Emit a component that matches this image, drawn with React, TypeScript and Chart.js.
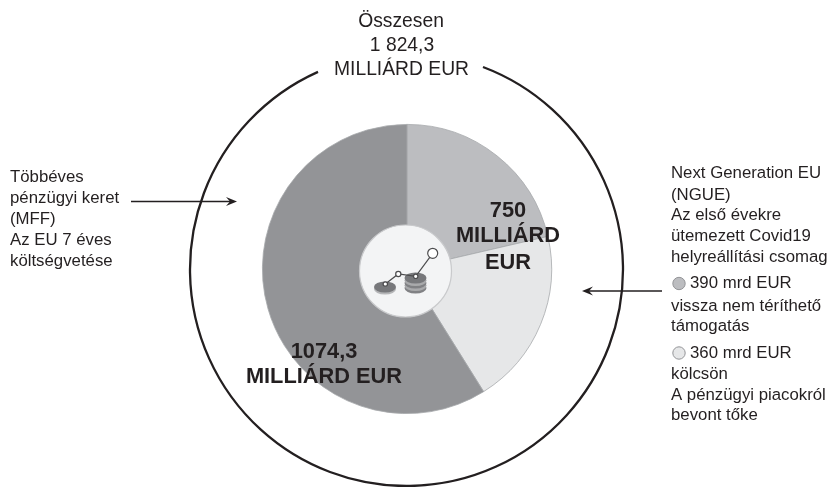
import React, { useEffect, useRef } from "react";
import { Chart, registerables } from "chart.js";

Chart.register(...registerables);

const categories = ["Vissza nem téríthető támogatás", "Kölcsön", "Többéves pénzügyi keret"];
const values = [390, 360, 1074.3];
const colors = ["#bcbdc0", "#e6e7e8", "#939497"];

const FONT = '"Liberation Sans", Arial, sans-serif';

type Line = [string, number, number];
const topLines: Line[] = [["Összesen", 401, 22], ["1 824,3", 402, 46], ["MILLIÁRD EUR", 401.5, 70]];
const leftLines: Line[] = [
  ["Többéves", 10, 177], ["pénzügyi keret", 10, 198], ["(MFF)", 10, 219],
  ["Az EU 7 éves", 10, 240], ["költségvetése", 10, 261],
];
const rightLines: Line[] = [
  ["Next Generation EU", 671, 173], ["(NGUE)", 671, 195], ["Az első évekre", 671, 215],
  ["ütemezett Covid19", 671, 236], ["helyreállítási csomag", 671, 257],
  ["390 mrd EUR", 690, 283], ["vissza nem téríthető", 671, 306], ["támogatás", 671, 326],
  ["360 mrd EUR", 690, 353], ["kölcsön", 671, 374], ["A pénzügyi piacokról", 671, 395], ["bevont tőke", 671, 415],
];
const boldCentered: Line[] = [
  ["750", 508, 211], ["MILLIÁRD", 508, 236], ["EUR", 508, 263],
  ["1074,3", 324, 352], ["MILLIÁRD EUR", 324, 377],
];

function arrow(ctx: CanvasRenderingContext2D, x0: number, x1: number, y: number) {
  const d = x1 > x0 ? 1 : -1;
  ctx.strokeStyle = "#231f20";
  ctx.fillStyle = "#231f20";
  ctx.lineWidth = 1.3;
  ctx.beginPath();
  ctx.moveTo(x0, y);
  ctx.lineTo(x1 - d * 6, y);
  ctx.stroke();
  ctx.beginPath();
  ctx.moveTo(x1, y);
  ctx.lineTo(x1 - d * 11, y - 4.5);
  ctx.lineTo(x1 - d * 7, y);
  ctx.lineTo(x1 - d * 11, y + 4.5);
  ctx.closePath();
  ctx.fill();
}

function coin(ctx: CanvasRenderingContext2D, x: number, y: number, fill: string) {
  ctx.fillStyle = fill;
  ctx.beginPath();
  ctx.ellipse(x, y, 11, 5.5, 0, 0, Math.PI * 2);
  ctx.fill();
}

const overlay = {
  id: "overlay",
  afterDraw(chart: any) {
    const ctx: CanvasRenderingContext2D = chart.ctx;
    const arc = chart.getDatasetMeta(0).data[0];
    const cx = arc.x;
    const cy = arc.y;
    ctx.save();

    // outer ring with a gap for the heading
    const R = 216.5;
    ctx.strokeStyle = "#231f20";
    ctx.lineWidth = 2.3;
    ctx.beginPath();
    ctx.arc(cx - 0.5, cy + 0.5, R, -Math.PI / 2 + Math.asin(76.5 / R), -Math.PI / 2 - Math.asin(88.5 / R));
    ctx.stroke();

    // central disc
    ctx.fillStyle = "#f3f4f5";
    ctx.strokeStyle = "#c9cacc";
    ctx.lineWidth = 1.2;
    ctx.beginPath();
    ctx.arc(405.5, 271, 46, 0, Math.PI * 2);
    ctx.fill();
    ctx.stroke();

    // coins
    coin(ctx, 385, 289, "#b5b6b8");
    coin(ctx, 385, 287, "#77787b");
    [288, 285.5, 283, 280.5].forEach((y, i) => {
      coin(ctx, 415.5, y, i % 2 ? "#a9aaac" : "#808184");
    });
    coin(ctx, 415.5, 278, "#77787b");

    // trend line
    ctx.strokeStyle = "#4d4d4f";
    ctx.lineWidth = 1.2;
    ctx.beginPath();
    ctx.moveTo(385.3, 284);
    ctx.lineTo(398.3, 274);
    ctx.lineTo(415.7, 276.3);
    ctx.lineTo(432.7, 253.3);
    ctx.stroke();
    ctx.fillStyle = "#ffffff";
    ([[385.3, 284, 2.2], [398.3, 274, 2.6], [415.7, 276.3, 2.2], [432.7, 253.3, 5]] as number[][]).forEach(([x, y, r]) => {
      ctx.beginPath();
      ctx.arc(x, y, r, 0, Math.PI * 2);
      ctx.fill();
      ctx.stroke();
    });

    // arrows
    arrow(ctx, 131, 237, 201.5);
    arrow(ctx, 662, 582, 291);

    // legend dots
    ([[679, 283.5, colors[0]], [679, 353, colors[1]]] as [number, number, string][]).forEach(([x, y, c]) => {
      ctx.fillStyle = c;
      ctx.strokeStyle = "#939497";
      ctx.lineWidth = 1;
      ctx.beginPath();
      ctx.arc(x, y, 6.2, 0, Math.PI * 2);
      ctx.fill();
      ctx.stroke();
    });

    // text
    ctx.textBaseline = "middle";
    ctx.fillStyle = "#231f20";
    ctx.font = `19.3px ${FONT}`;
    ctx.textAlign = "center";
    topLines.forEach(([t, x, y]) => ctx.fillText(t, x, y));
    ctx.font = `16.8px ${FONT}`;
    ctx.textAlign = "left";
    leftLines.forEach(([t, x, y]) => ctx.fillText(t, x, y));
    rightLines.forEach(([t, x, y]) => ctx.fillText(t, x, y));
    ctx.font = `bold 21.8px ${FONT}`;
    ctx.textAlign = "center";
    boldCentered.forEach(([t, x, y]) => ctx.fillText(t, x, y));
    ctx.restore();
  },
};

export default function App() {
  const ref = useRef<HTMLCanvasElement>(null);
  useEffect(() => {
    document.body.style.margin = "0";
    const chart = new Chart(ref.current!, {
      type: "doughnut",
      data: {
        labels: categories,
        datasets: [{ data: values, backgroundColor: colors, borderColor: "#a7a9ac", borderWidth: 0.8, spacing: 0 }],
      },
      options: {
        responsive: false,
        animation: false,
        cutout: 40,
        layout: { padding: { left: 262, right: 280, top: 124, bottom: 73 } },
        plugins: { legend: { display: false }, tooltip: { enabled: false } },
      },
      plugins: [overlay],
    } as any);
    return () => chart.destroy();
  }, []);
  return (
    <div style={{ position: "relative", width: 832, height: 487, background: "#fff", overflow: "hidden" }}>
      <canvas ref={ref} width={832} height={487} style={{ display: "block" }} />
    </div>
  );
}
